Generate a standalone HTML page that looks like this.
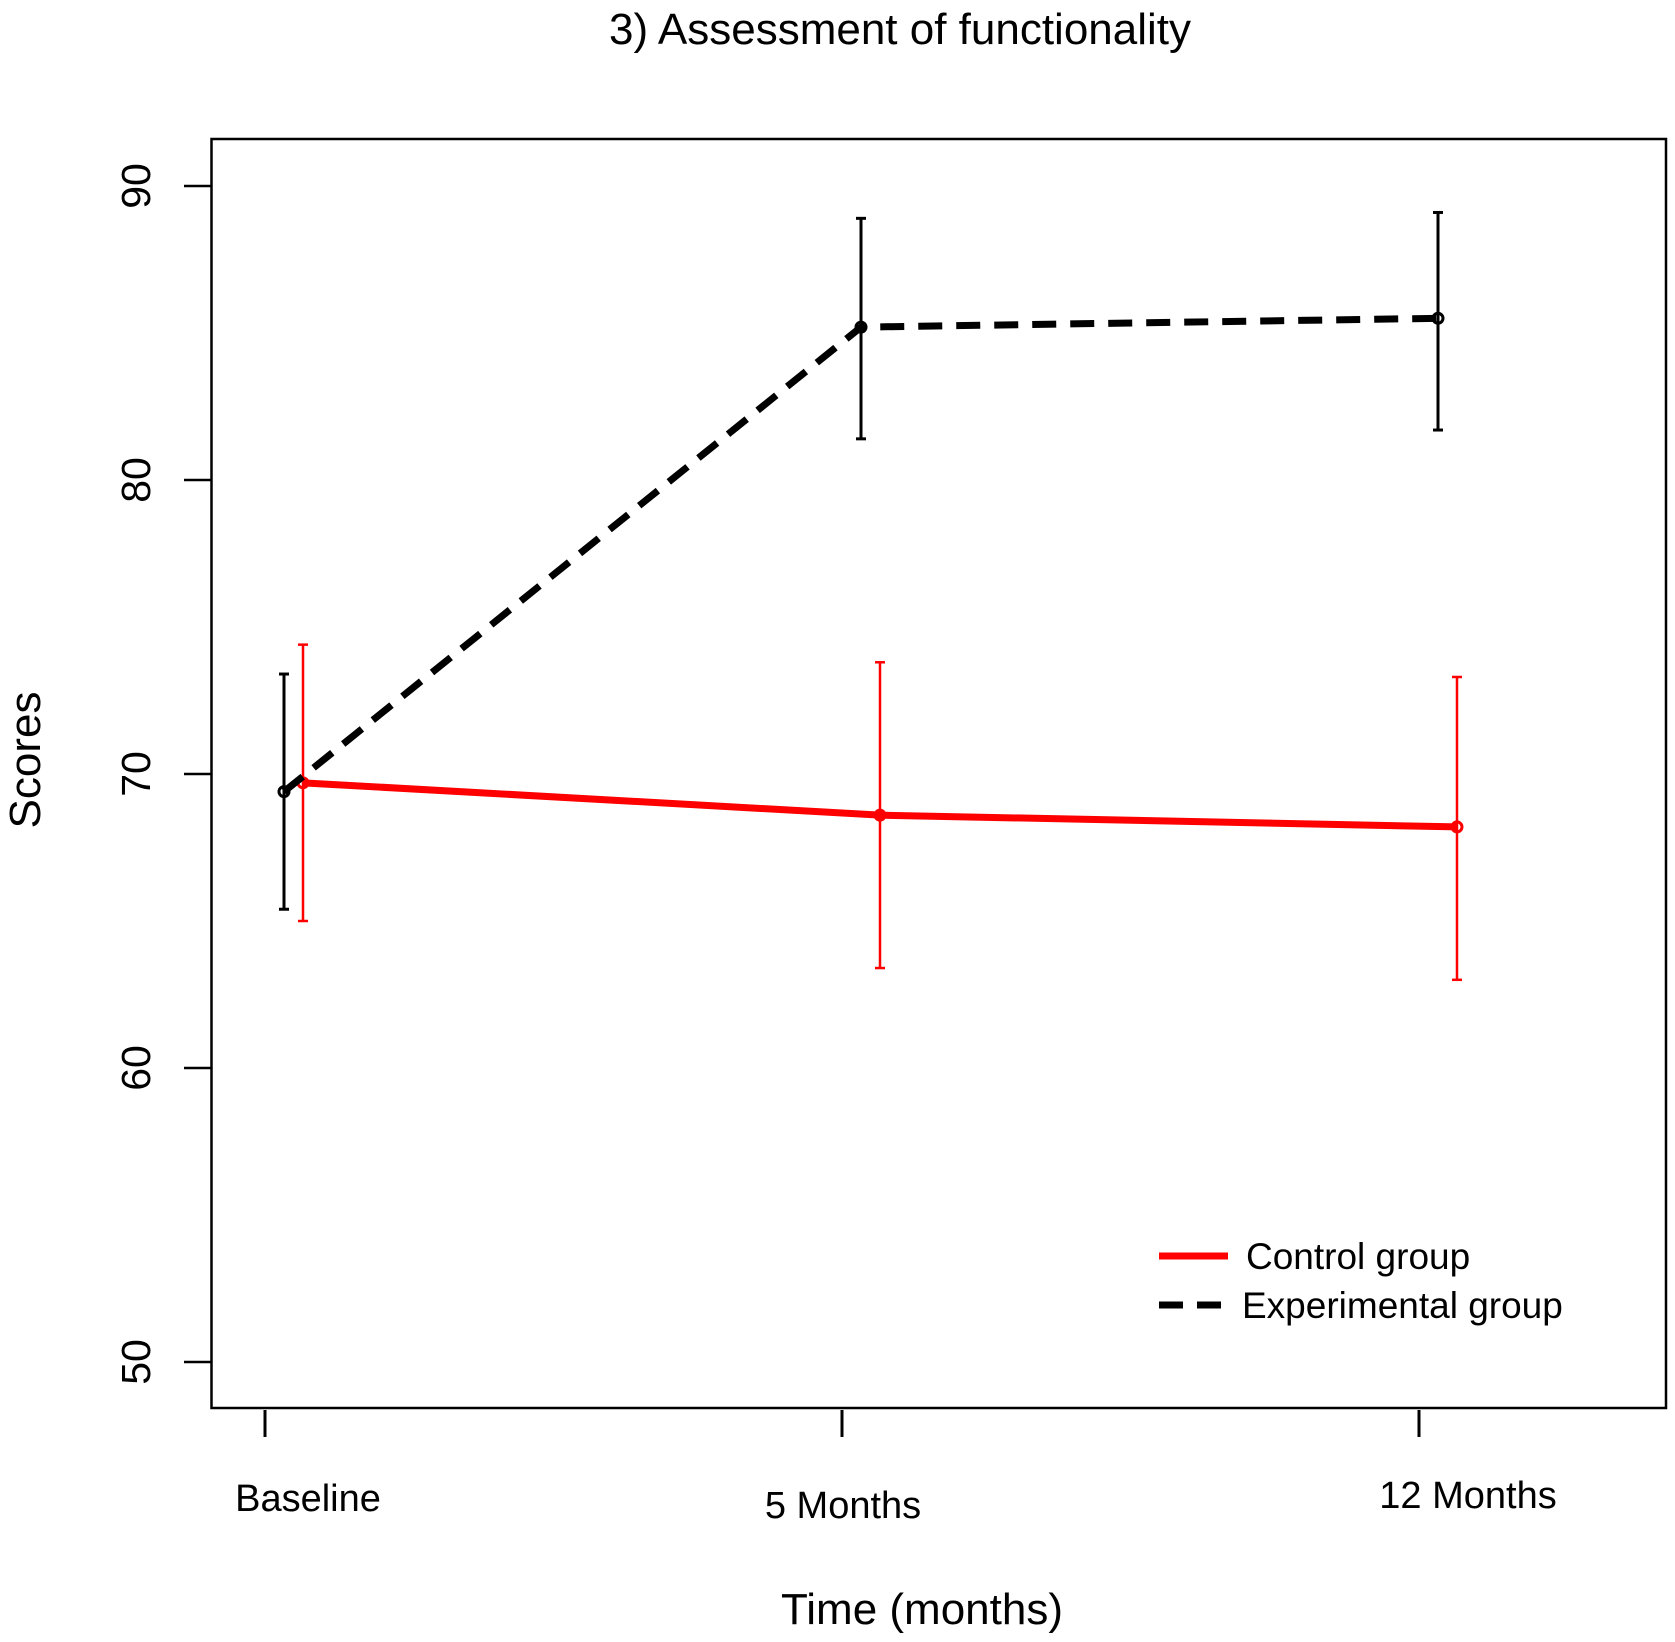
<!DOCTYPE html>
<html><head><meta charset="utf-8"><style>
html,body{margin:0;padding:0;background:#fff;}
svg{display:block;font-family:"Liberation Sans",Arial,sans-serif;}
</style></head><body>
<svg id="chart" width="1675" height="1642" viewBox="0 0 1675 1642">
<text x="900" y="44" font-size="44" text-anchor="middle">3) Assessment of functionality</text>
<rect x="211.5" y="139" width="1454.5" height="1269" fill="none" stroke="#000" stroke-width="2.5"/>
<g id="yaxis"></g>
<g id="xaxis"></g>
<g id="series"></g>
<text transform="translate(40,760) rotate(-90)" font-size="44" text-anchor="middle">Scores</text>
<text x="922" y="1624" font-size="44" text-anchor="middle">Time (months)</text>
<g>
<line x1="1159" y1="1256" x2="1228" y2="1256" stroke="#ff0000" stroke-width="7"/>
<text x="1246" y="1269" font-size="37">Control group</text>
<line x1="1159" y1="1305" x2="1228" y2="1305" stroke="#000" stroke-width="7" stroke-dasharray="24,14"/>
<text x="1242" y="1318" font-size="37">Experimental group</text>
</g>
</svg>
<script>
const categories = ["Baseline", "5 Months", "12 Months"];
const yTicks = [50, 60, 70, 80, 90];
const expMean = [69.4, 85.2, 85.5];
const expUpper = [73.4, 88.9, 89.1];
const expLower = [65.4, 81.4, 81.7];
const ctrlMean = [69.7, 68.6, 68.2];
const ctrlUpper = [74.4, 73.8, 73.3];
const ctrlLower = [65.0, 63.4, 63.0];

const NS = "http://www.w3.org/2000/svg";
function y(v){ return 1362 - (v - 50) * 29.4; }
function x(i){ return 265 + i * 577; }
function mk(parent, tag, attrs){
  const e = document.createElementNS(NS, tag);
  for (const k in attrs) e.setAttribute(k, attrs[k]);
  parent.appendChild(e); return e;
}
const ya = document.getElementById('yaxis');
yTicks.forEach(t => {
  const tl = mk(ya, 'line', {x1:184, x2:211.5, y1:y(t), y2:y(t), stroke:'#000','stroke-width':2.5});
  
  
  const tx = mk(ya, 'text', {transform:`translate(150,${y(t)}) rotate(-90)`, 'font-size':41, 'text-anchor':'middle'});
  tx.textContent = t;
  
  
});
const xa = document.getElementById('xaxis');
const labelDx = [43, 1, 49];
const labelY = [1511, 1518, 1508];
categories.forEach((c, i) => {
  const tl = mk(xa, 'line', {x1:x(i), x2:x(i), y1:1410, y2:1437, stroke:'#000','stroke-width':3});
  
  
  const tx = mk(xa, 'text', {x:x(i) + labelDx[i], y:labelY[i], 'font-size':38, 'text-anchor':'middle'});
  tx.textContent = c;
  
  
});
const sg = document.getElementById('series');
function drawSeries(mean, up, lo, dx, color, dash, name, ew){
  const pts = mean.map((v, i) => `${x(i) + dx},${y(v)}`).join(' ');
  const pl = mk(sg, 'polyline', {points:pts, fill:'none', stroke:color, 'stroke-width':7, 'stroke-dasharray':dash});
  
  
  mean.forEach((v, i) => {
    const cx = x(i) + dx;
    const g = mk(sg, 'g', {stroke:color, 'stroke-width':ew});
    
    
    mk(g, 'line', {x1:cx, x2:cx, y1:y(up[i]), y2:y(lo[i])});
    mk(g, 'line', {x1:cx-5, x2:cx+5, y1:y(up[i]), y2:y(up[i])});
    mk(g, 'line', {x1:cx-5, x2:cx+5, y1:y(lo[i]), y2:y(lo[i])});
    const p = mk(sg, 'circle', {cx:cx, cy:y(v), r:5, fill:'none', stroke:color, 'stroke-width':3});
    
    
  });
}
drawSeries(ctrlMean, ctrlUpper, ctrlLower, 38, '#ff0000', 'none', 'control', 2.5);
drawSeries(expMean, expUpper, expLower, 19, '#000', '24,14', 'experimental', 3);
</script>
</body></html>
